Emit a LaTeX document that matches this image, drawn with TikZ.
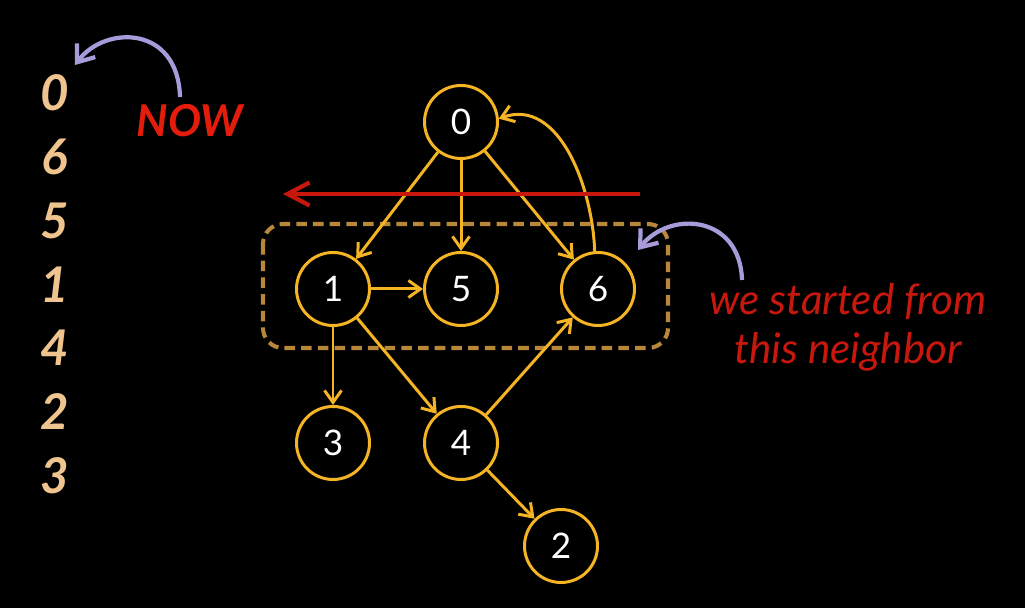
\documentclass[tikz,border=0pt]{standalone}
\usepackage{fontspec}
\setmainfont{Lato}
\usetikzlibrary{positioning,arrows.meta,calc}
\definecolor{bfGold}{RGB}{245,180,36}
\definecolor{bfBox}{RGB}{184,135,58}
\definecolor{bfRed}{RGB}{200,24,14}
\definecolor{bfNow}{RGB}{228,28,12}
\definecolor{bfPeach}{RGB}{240,196,142}
\definecolor{bfLilac}{RGB}{168,155,218}

\begin{document}
\begin{tikzpicture}[
    vtx/.style={circle, draw=bfGold, line width=1.7pt, minimum size=1.46cm, inner sep=0pt, text=white, font=\fontsize{20}{24}\selectfont},
    edge/.style={-{Straight Barb[length=2.4mm,width=3.4mm]}, bfGold, line width=1.7pt},
    order/.style={text=bfPeach, font=\fontsize{28}{30}\selectfont\bfseries\itshape},
    hint/.style={bfLilac, line width=2.4pt, -{Straight Barb[length=3mm,width=4.6mm]}}
  ]
  % background and page size
  \fill[black] (0,0) rectangle (20.5,12.16);
  \useasboundingbox (0,0) rectangle (20.5,12.16);

  % visiting order
  \foreach \v [count=\i from 0] in {0,6,5,1,4,2,3}
    \node[order] (ord\i) at (1.10, {10.30-1.276*\i}) {\v};
  \node[bfNow, font=\fontsize{25}{27}\selectfont\bfseries\itshape] (now) at (3.80,9.74) {NOW};

  % neighbours of 0
  \draw[bfBox, line width=2.3pt, dash pattern=on 6pt off 3.5pt, rounded corners=0.4cm] (5.26,7.68) rectangle (13.36,5.20);

  % graph
  \node[vtx] (n0) at (9.22,9.72) {0};
  \node[vtx] (n1) at (6.66,6.38) {1};
  \node[vtx] (n5) at (9.22,6.38) {5};
  \node[vtx] (n6) at (11.96,6.38) {6};
  \node[vtx] (n3) at (6.66,3.30) {3};
  \node[vtx] (n4) at (9.22,3.30) {4};
  \node[vtx] (n2) at (11.22,1.24) {2};

  \draw[edge] (n0) -- (n1);
  \draw[edge] (n0) -- (n5);
  \draw[edge] (n0) -- (n6);
  \draw[edge] (n6.95) to[out=92,in=20] (n0.5);
  \draw[edge] (n1) -- (n5);
  \draw[edge] (n1) -- (n3);
  \draw[edge] (n1) -- (n4);
  \draw[edge] (n4) -- (n6);
  \draw[edge] (n4) -- (n2);

  % scan direction
  \coordinate (scanR) at (12.80,8.28);
  \coordinate (scanL) at (5.66,8.28);
  \draw[bfRed, line width=2.4pt, -{Straight Barb[length=4.4mm,width=4.6mm]}] (scanR) -- (scanL);

  % hand drawn pointers
  \coordinate (nowTail) at (3.60,10.22);
  \coordinate (nowTip) at (1.50,10.86);
  \draw[hint] (nowTail) .. controls (3.56,11.66) and (2.10,11.66) .. (nowTip);
  \coordinate (noteTail) at (14.84,6.56);
  \coordinate (noteTip) at (12.76,7.16);
  \draw[hint] (noteTail) .. controls (14.80,7.86) and (13.40,7.96) .. (noteTip);

  \node[bfRed, align=center, font=\fontsize{24}{28}\selectfont\itshape] (note) at (16.96,5.62) {we started from\\this neighbor};
\end{tikzpicture}
\end{document}
